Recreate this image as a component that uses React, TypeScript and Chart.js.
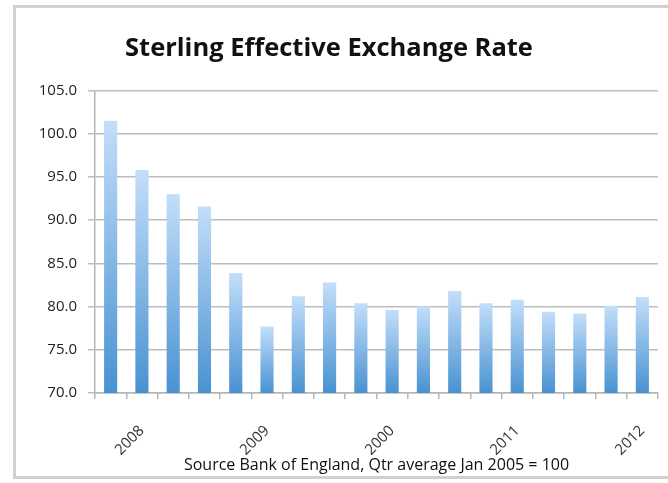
import React, { useEffect, useRef } from "react";
import { Chart, registerables } from "chart.js";

Chart.register(...registerables);

const categories: string[] = [
  "", "2008", "", "", "", "2009", "", "", "", "2000", "", "", "", "2011", "", "", "", "2012",
];
const rateValues: number[] = [
  101.5, 95.8, 93.0, 91.6, 83.9, 77.7, 81.2, 82.8, 80.4, 79.6, 80.0, 81.8, 80.4, 80.8, 79.4, 79.2, 80.1, 81.1,
];
const yMin = 70;
const yMax = 105;
const yStep = 5;
const titleText = "Sterling Effective Exchange Rate";
const sourceText = "Source Bank of England, Qtr average Jan 2005 = 100";

export default function App() {
  const canvasRef = useRef<HTMLCanvasElement | null>(null);

  useEffect(() => {
    const canvas = canvasRef.current;
    if (!canvas) return;
    const font = "'Open Sans', 'DejaVu Sans', sans-serif";
    const chart = new Chart(canvas, {
      type: "bar",
      data: {
        labels: categories,
        datasets: [
          {
            data: rateValues,
            backgroundColor: (ctx: any) => {
              const c = ctx.chart;
              const ys = c.scales && c.scales.y;
              if (!c.chartArea || !ys || ctx.type !== "data") return "#8fc0ea";
              const v = ctx.raw as number;
              const top = ys.getPixelForValue(v);
              const bottom = ys.getPixelForValue(yMin);
              if (!isFinite(top) || !isFinite(bottom) || bottom - top < 1) return "#8fc0ea";
              const g = c.ctx.createLinearGradient(0, top, 0, bottom);
              g.addColorStop(0, "#c3defa");
              g.addColorStop(1, "#4892d1");
              return g;
            },
            borderWidth: 0,
            categoryPercentage: 1,
            barPercentage: 0.42,
          },
        ],
      },
      options: {
        animation: false,
        responsive: false,
        maintainAspectRatio: false,
        layout: { padding: { left: 0, right: 10, top: 0, bottom: 8 } },
        plugins: {
          legend: { display: false },
          tooltip: { enabled: false },
          title: {
            display: true,
            text: titleText,
            color: "#111",
            font: { family: font, size: 25.5, weight: "bold" },
            padding: { top: 33, bottom: 27 },
          },
        },
        scales: {
          x: {
            grid: {
              offset: true,
              drawOnChartArea: false,
              drawTicks: true,
              tickLength: 6,
              color: "#b5b5b5",
              lineWidth: 1.5,
            },
            border: { display: true, color: "#b5b5b5", width: 1.5 },
            ticks: {
              autoSkip: false,
              maxRotation: 45,
              minRotation: 45,
              padding: 23,
              color: "#333",
              font: { family: font, size: 15 },
            },
            title: {
              display: true,
              text: sourceText,
              color: "#111",
              font: { family: font, size: 16 },
              padding: { top: 0, bottom: 0 },
            },
            afterFit: (s: any) => {
              s.height = 82;
              s.paddingRight = 0;
              s.paddingLeft = 0;
            },
          },
          y: {
            min: yMin,
            max: yMax,
            grid: {
              color: "#bdbdbd",
              lineWidth: 1.5,
              drawTicks: true,
              tickLength: 7,
            },
            border: { display: true, color: "#b5b5b5", width: 1.5 },
            ticks: {
              stepSize: yStep,
              padding: 11,
              color: "#222",
              font: { family: font, size: 15 },
              callback: (v: any) => Number(v).toFixed(1),
            },
            afterFit: (s: any) => {
              s.width = 95;
            },
          },
        },
      },
    } as any);
    return () => chart.destroy();
  }, []);

  return (
    <div
      style={{
        position: "fixed",
        left: 0,
        top: 0,
        width: 668,
        height: 483,
        background: "#fff",
        overflow: "hidden",
      }}
    >
      <div
        style={{
          position: "absolute",
          left: 13,
          top: 5,
          width: 680,
          height: 468,
          border: "3px solid #d0d0d0",
          boxSizing: "content-box",
        }}
      />
      <canvas
        ref={canvasRef}
        width={668}
        height={483}
        style={{ position: "absolute", left: 0, top: 0, width: 668, height: 483 }}
      />
    </div>
  );
}
